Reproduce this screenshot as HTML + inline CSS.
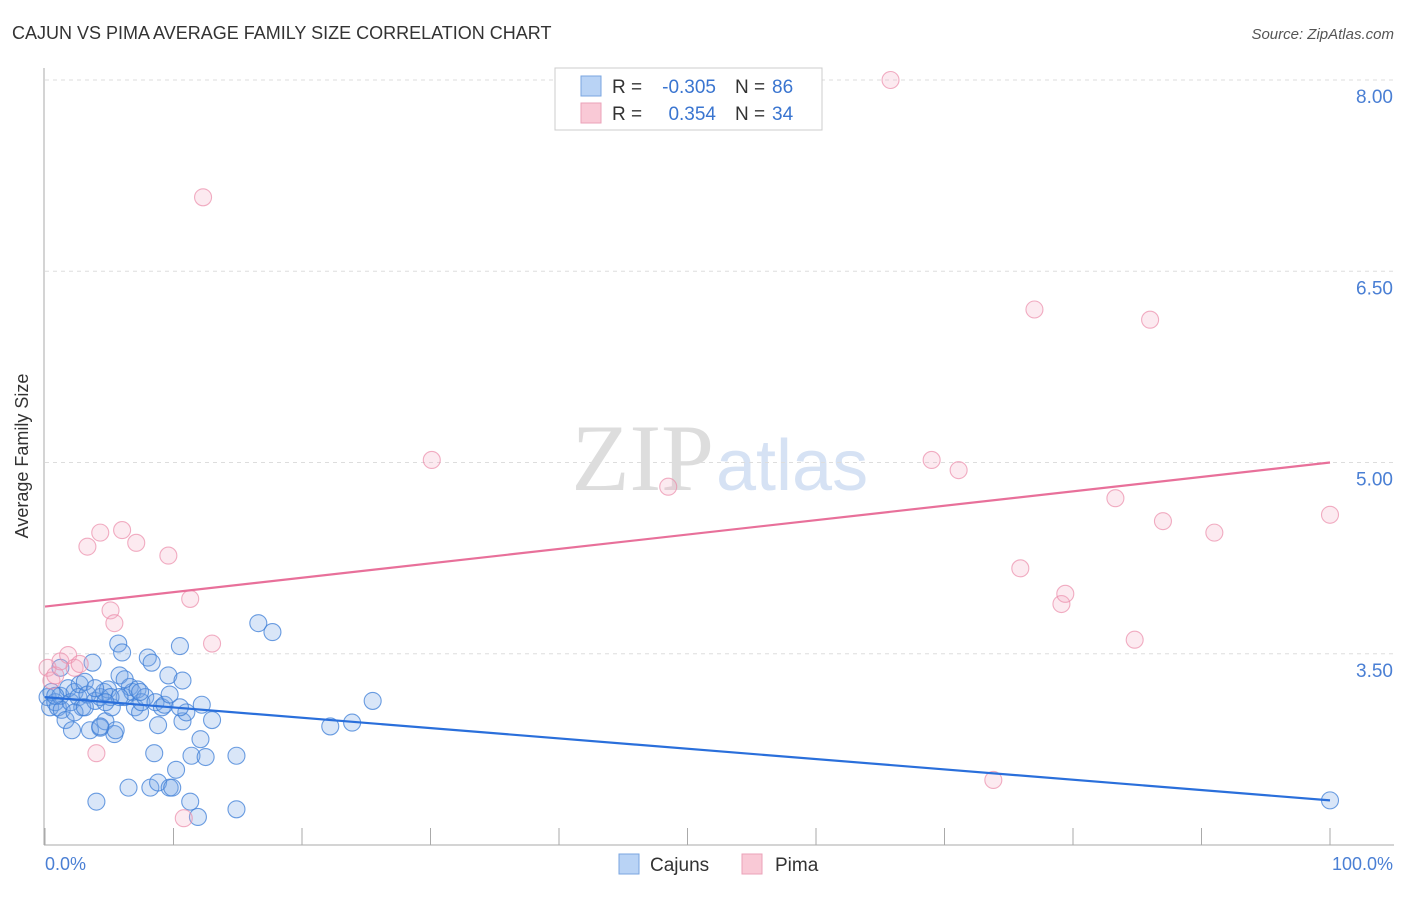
<!DOCTYPE html>
<html><head><meta charset="utf-8"><style>
body{margin:0;background:#fff;font-family:"Liberation Sans",sans-serif;}
</style></head><body>
<svg id="chart" width="1406" height="892" xmlns="http://www.w3.org/2000/svg">
<text x="12" y="39" font-size="18" fill="#333">CAJUN VS PIMA AVERAGE FAMILY SIZE CORRELATION CHART</text>
<text x="1394" y="39" font-size="15" fill="#555" font-style="italic" text-anchor="end">Source: ZipAtlas.com</text>
<text x="714" y="490" font-size="95" fill="#ddd" text-anchor="end" font-family="Liberation Serif,serif">ZIP</text>
<text x="716" y="490" font-size="72" fill="#d6e2f4">atlas</text>
<g id="grid"></g>
<line x1="44" y1="68" x2="44" y2="845" stroke="#aaa"/>
<line x1="44" y1="845" x2="1394" y2="845" stroke="#aaa"/>
<g id="xticks"></g>
<text x="28" y="456" font-size="18" fill="#333" text-anchor="middle" transform="rotate(-90 28 456)">Average Family Size</text>
<text x="45" y="870" font-size="18" fill="#4a7fd4">0.0%</text>
<text x="1393" y="870" font-size="18" fill="#4a7fd4" text-anchor="end">100.0%</text>
<g id="pts"></g>
<g id="lines"></g>
<g font-size="19">
<rect x="555" y="68" width="267" height="62" fill="#fff" stroke="#ccc"/>
<rect x="581" y="76" width="20" height="20" fill="#b9d3f5" stroke="#7aa6e0"/>
<rect x="581" y="103" width="20" height="20" fill="#f9c9d6" stroke="#eba2b8"/>
<text x="612" y="93" fill="#333">R =</text>
<text x="716" y="93" fill="#3a75d0" text-anchor="end">-0.305</text>
<text x="735" y="93" fill="#333">N =</text>
<text x="772" y="93" fill="#3a75d0">86</text>
<text x="612" y="120" fill="#333">R =</text>
<text x="716" y="120" fill="#3a75d0" text-anchor="end">0.354</text>
<text x="735" y="120" fill="#333">N =</text>
<text x="772" y="120" fill="#3a75d0">34</text>
</g>
<g>
<rect x="619" y="854" width="20" height="20" fill="#b9d3f5" stroke="#7aa6e0"/>
<text x="650" y="871" font-size="19" fill="#333">Cajuns</text>
<rect x="742" y="854" width="20" height="20" fill="#f9c9d6" stroke="#eba2b8"/>
<text x="775" y="871" font-size="19" fill="#333">Pima</text>
</g>
</svg>
<script>
const yTicks=[8.00,6.50,5.00,3.50];
const blueX=[0.2,0.4,0.5,0.8,1.0,1.2,1.3,1.6,1.8,2.0,2.1,2.3,2.6,2.7,2.9,3.1,3.3,3.5,3.7,3.9,4.0,4.3,4.3,4.6,4.7,4.9,5.2,5.4,5.5,5.7,5.8,6.0,6.2,6.5,6.6,6.8,7.0,7.2,7.4,7.5,7.8,8.0,8.2,8.3,8.5,8.6,8.8,8.8,9.1,9.3,9.6,9.7,9.7,9.9,10.2,10.5,10.7,10.7,11.0,11.3,11.4,11.9,12.1,12.2,12.5,13.0,14.9,14.9,16.6,17.7,22.2,23.9,25.5,100,1.2,2.3,3.1,5.1,7.4,6.2,4.3,5.8,3.9,10.5,0.8,4.7];
const blueY=[3.16,3.08,3.20,3.12,3.08,3.17,3.06,2.98,3.23,3.12,2.90,3.20,3.16,3.26,3.08,3.28,3.18,2.90,3.43,3.13,2.34,2.92,3.16,3.20,2.97,3.22,3.08,2.87,2.90,3.58,3.33,3.51,3.16,2.45,3.24,3.20,3.08,3.22,3.04,3.12,3.16,3.47,2.45,3.43,2.72,3.12,2.94,2.49,3.08,3.10,3.33,3.18,2.45,2.45,2.59,3.56,2.97,3.29,3.04,2.34,2.70,2.22,2.83,3.10,2.69,2.98,2.28,2.70,3.74,3.67,2.93,2.96,3.13,2.35,3.39,3.04,3.08,3.16,3.20,3.30,2.93,3.16,3.23,3.08,3.17,3.12];
const pinkX=[0.2,0.5,0.8,1.2,1.8,2.3,2.7,3.3,4.0,4.3,5.1,5.4,6.0,7.1,9.6,10.8,11.3,12.3,13.0,30.1,48.5,65.8,69.0,71.1,73.8,75.9,77.0,79.1,79.4,83.3,84.8,86.0,87.0,91.0,100];
const pinkY=[3.39,3.29,3.33,3.44,3.49,3.39,3.42,4.34,2.72,4.45,3.84,3.74,4.47,4.37,4.27,2.21,3.93,7.08,3.58,5.02,4.81,8.00,5.02,4.94,2.51,4.17,6.20,3.89,3.97,4.72,3.61,6.12,4.54,4.45,4.59];
const blueTrend=[3.16,2.35];
const pinkTrend=[3.87,5.00];
const NS='http://www.w3.org/2000/svg';
const X=p=>45+p/100*1285;
const Y=v=>80+(8-v)*127.5;
function mk(tag,attrs,parent){const e=document.createElementNS(NS,tag);for(const k in attrs)e.setAttribute(k,attrs[k]);document.getElementById(parent).appendChild(e);return e;}
yTicks.forEach(v=>{
 const l=mk('line',{x1:45,x2:1394,y1:Y(v),y2:Y(v),stroke:'#ddd','stroke-dasharray':'4,4'},'grid');
 
 
 const t=mk('text',{x:1393,y:Y(v)+23,'font-size':19,fill:'#4a7fd4','text-anchor':'end'},'grid');
 t.textContent=v.toFixed(2);
 
 
});
for(let i=0;i<=10;i++){
 const l=mk('line',{x1:X(i*10),x2:X(i*10),y1:828,y2:845,stroke:'#aaa'},'xticks');
 
 
}
blueX.forEach((x,i)=>{
 const c=mk('circle',{cx:X(x),cy:Y(blueY[i]),r:8.5,fill:'rgba(120,165,230,0.28)',stroke:'rgba(60,125,215,0.75)','stroke-width':1.1},'pts');
 
 
});
pinkX.forEach((x,i)=>{
 const c=mk('circle',{cx:X(x),cy:Y(pinkY[i]),r:8.5,fill:'rgba(245,170,195,0.25)',stroke:'rgba(235,140,170,0.7)','stroke-width':1.1},'pts');
 
 
});
const bl=mk('line',{x1:X(0),y1:Y(blueTrend[0]),x2:X(100),y2:Y(blueTrend[1]),stroke:'#2a6fdb','stroke-width':2.2},'lines');


const pl=mk('line',{x1:X(0),y1:Y(pinkTrend[0]),x2:X(100),y2:Y(pinkTrend[1]),stroke:'#e8709a','stroke-width':2.2},'lines');


</script>
</body></html>
